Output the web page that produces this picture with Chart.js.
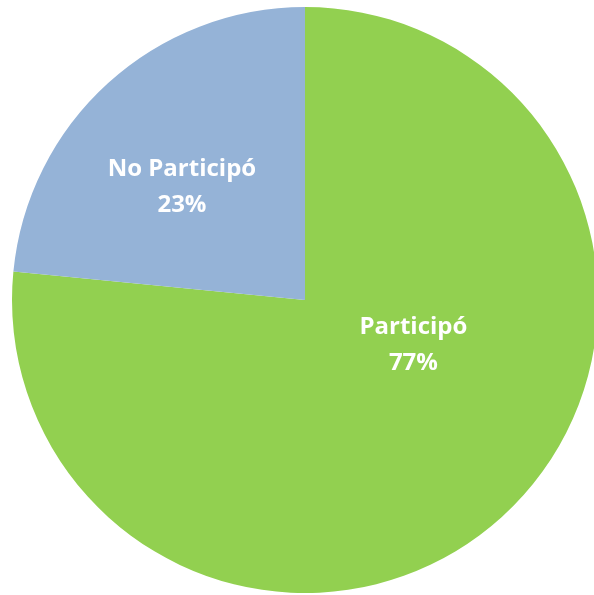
<!DOCTYPE html>
<html>
<head>
<meta charset="utf-8">
<script src="https://cdn.jsdelivr.net/npm/chart.js@4/dist/chart.umd.min.js"></script>
<style>
  html, body { margin: 0; padding: 0; background: #fff; overflow: hidden; }
  #wrap { position: absolute; left: 0; top: 0; width: 610px; height: 595px; }
</style>
</head>
<body>
<div id="wrap"><canvas id="c" width="610" height="595"></canvas></div>
<script>
const categories = ["Participó", "No Participó"];
const shares = [76.55, 23.45];
const sliceColors = ["#92D050", "#95B3D7"];
// label placement as fraction of radius (x, y) from pie centre
const labelOffsets = [[0.37, 0.155], [-0.42, -0.385]];

const labelPlugin = {
  id: 'sliceLabels',
  afterDatasetsDraw(chart) {
    const ctx = chart.ctx;
    const meta = chart.getDatasetMeta(0);
    const data = chart.data.datasets[0].data;
    const total = data.reduce((a, b) => a + b, 0);
    ctx.save();
    ctx.fillStyle = '#ffffff';
    ctx.font = 'bold 24px "Open Sans", "Liberation Sans", sans-serif';
    ctx.textAlign = 'center';
    ctx.textBaseline = 'middle';
    meta.data.forEach((arc, i) => {
      const r = arc.outerRadius;
      const x = arc.x + labelOffsets[i][0] * r;
      const y = arc.y + labelOffsets[i][1] * r;
      ctx.fillText(chart.data.labels[i], x, y - 18);
      ctx.fillText(Math.round(data[i] / total * 100) + '%', x, y + 18);
    });
    ctx.restore();
  }
};

new Chart(document.getElementById('c'), {
  type: 'pie',
  data: {
    labels: categories,
    datasets: [{
      data: shares,
      backgroundColor: sliceColors,
      borderWidth: 0
    }]
  },
  options: {
    responsive: false,
    animation: false,
    layout: { padding: { left: 12, right: 12, top: 7, bottom: 2 } },
    plugins: {
      legend: { display: false },
      tooltip: { enabled: false }
    }
  },
  plugins: [labelPlugin]
});
</script>
</body>
</html>
